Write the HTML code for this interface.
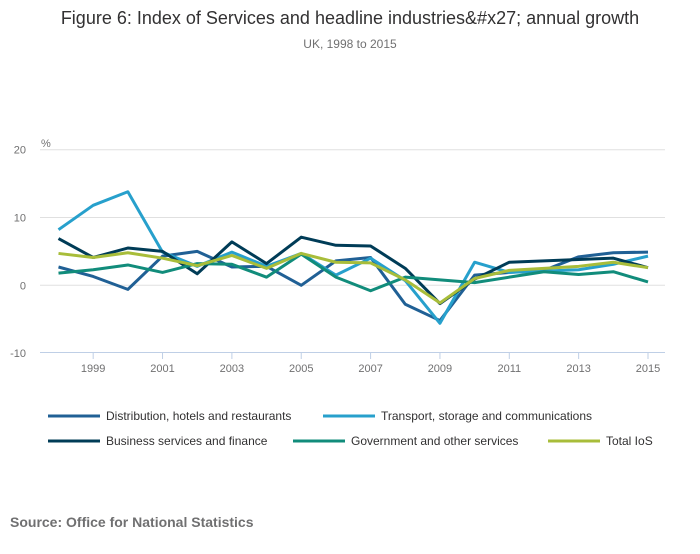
<!DOCTYPE html>
<html><head><meta charset="utf-8"><style>
body{margin:0;background:#fff;font-family:"Liberation Sans",sans-serif;}
svg text{font-family:"Liberation Sans",sans-serif;}
</style></head><body>
<svg width="700" height="549" xmlns="http://www.w3.org/2000/svg">
<text x="350" y="24" text-anchor="middle" font-size="18" fill="#323132">Figure 6: Index of Services and headline industries&amp;#x27; annual growth</text>
<text x="350" y="48" text-anchor="middle" font-size="12" fill="#707071">UK, 1998 to 2015</text>
<g id="grid"></g><g id="axes"></g><g id="series"></g><g id="legend"></g>
<text x="10" y="527" font-size="14" font-weight="bold" fill="#707071">Source: Office for National Statistics</text>
</svg>
<script>
const years=[1998,1999,2000,2001,2002,2003,2004,2005,2006,2007,2008,2009,2010,2011,2012,2013,2014,2015];
const yTicks=[20,10,0,-10];
const xTicks=[1999,2001,2003,2005,2007,2009,2011,2013,2015];
const seriesNames=["Distribution, hotels and restaurants","Transport, storage and communications","Business services and finance","Government and other services","Total IoS"];
const distribution=[2.7,1.3,-0.6,4.3,5.0,2.7,2.8,0,3.6,4.1,-2.8,-5.2,1.5,1.9,2.2,4.2,4.8,4.9];
const transport=[8.2,11.8,13.8,4.9,2.8,4.9,2.8,4.7,1.5,4.0,0.7,-5.6,3.4,1.9,2.1,2.3,3.1,4.3];
const business=[6.9,4.1,5.5,5.0,1.7,6.4,3.2,7.1,5.9,5.8,2.5,-2.7,0.9,3.4,3.6,3.8,4.0,2.6];
const government=[1.8,2.3,3.0,1.9,3.2,3.1,1.2,4.6,1.2,-0.8,1.2,0.8,0.4,1.2,2.0,1.6,2.0,0.5];
const total=[4.7,4.1,4.8,4.0,2.9,4.4,2.5,4.7,3.4,3.3,0.8,-2.6,1.0,2.2,2.5,2.8,3.4,2.6];
const allSeries=[distribution,transport,business,government,total];
const colors=["#206095","#27a0cc","#003c57","#118c7b","#a8bd3a"];
const NS="http://www.w3.org/2000/svg";
const X=v=>58.5+(v-1998)*(648-58.5)/17;
const Y=v=>285.3-v*6.78;
function mk(t,a,p){const e=document.createElementNS(NS,t);for(const k in a)e.setAttribute(k,a[k]);p.appendChild(e);return e;}
const grid=document.getElementById('grid'),axes=document.getElementById('axes'),ser=document.getElementById('series'),leg=document.getElementById('legend');
yTicks.forEach(t=>{
 if(t>-10){const l=mk('line',{x1:40,x2:665,y1:Y(t),y2:Y(t),stroke:'#e0e0e0','stroke-width':1},grid);
 
 }
 const tx=mk('text',{x:26,y:Y(t)+4,'text-anchor':'end','font-size':11,fill:'#707071'},axes);tx.textContent=t;
 
 
});
const pct=mk('text',{x:41,y:147,'font-size':11,fill:'#707071'},axes);pct.textContent='%';


const ax=mk('line',{x1:40,x2:665,y1:352.5,y2:352.5,stroke:'#bfcfe6','stroke-width':1},axes);


xTicks.forEach(t=>{
 mk('line',{x1:X(t),x2:X(t),y1:352,y2:359,stroke:'#bfcfe6'},axes);
 const tx=mk('text',{x:X(t),y:372,'text-anchor':'middle','font-size':11,fill:'#707071'},axes);tx.textContent=t;
 
 
});
allSeries.forEach((s,i)=>{
 const p=mk('polyline',{points:s.map((v,j)=>X(years[j])+','+Y(v)).join(' '),fill:'none',stroke:colors[i],'stroke-width':3,'stroke-linejoin':'round'},ser);
 
 
});
const lp=[[48,416],[323,416],[48,441],[293,441],[548,441]];
seriesNames.forEach((n,i)=>{
 const g=mk('g',{},leg);
 
 
 mk('line',{x1:lp[i][0],x2:lp[i][0]+52,y1:lp[i][1],y2:lp[i][1],stroke:colors[i],'stroke-width':3},g);
 const t=mk('text',{x:lp[i][0]+58,y:lp[i][1]+4,'font-size':12,fill:'#323132'},g);t.textContent=n;
});
</script>
</body></html>
